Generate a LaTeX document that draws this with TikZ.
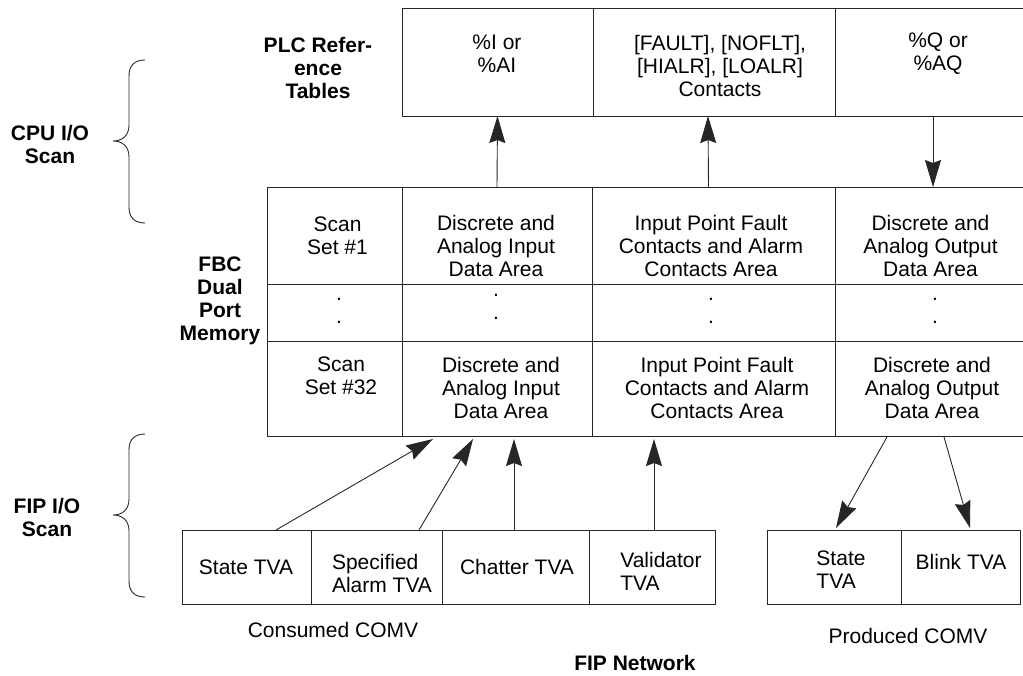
\documentclass[tikz,border=0pt]{standalone}
\usepackage{fontspec}
\setmainfont{Liberation Sans}
\usetikzlibrary{arrows.meta,calc}
\begin{document}
\begin{tikzpicture}[x=1pt,y=-1pt,
  font=\fontsize{21}{23}\selectfont,
  ln/.style={draw=black!85,line width=0.9pt},
  cell/.style={ln,inner sep=0pt,outer sep=0pt},
  txt/.style={align=center,inner sep=0pt},
  lbl/.style={align=center,inner sep=0pt,font=\fontsize{21}{23}\selectfont\bfseries},
  arr/.style={ln,-{Stealth[length=27pt,width=16pt,inset=3pt]}}]
\useasboundingbox (0,0) rectangle (1023,675);

% top table
\node[cell,minimum width=191pt,minimum height=108pt] (t1) at (497.5,62) {};
\node[cell,minimum width=242pt,minimum height=108pt] (t2) at (714,62) {};
\node[cell,minimum width=190pt,minimum height=108pt] (t3) at (930,62) {};
\node[txt] (tt1) at (497,54) {\%I or\\\%AI};
\node[txt] (tt2) at (720,65.5) {[FAULT], [NOFLT],\\{}[HIALR], [LOALR]\\Contacts};
\node[txt] (tt3) at (938,54) {\%Q or\\\%AQ};

% middle table
\node[cell,minimum width=135pt,minimum height=97pt] (m11) at (334.5,235.5) {};
\node[cell,minimum width=190pt,minimum height=97pt] (m12) at (497,235.5) {};
\node[cell,minimum width=243pt,minimum height=97pt] (m13) at (713.5,235.5) {};
\node[cell,minimum width=190pt,minimum height=97pt] (m14) at (930,235.5) {};
\node[cell,minimum width=135pt,minimum height=57pt] (m21) at (334.5,312.5) {};
\node[cell,minimum width=190pt,minimum height=57pt] (m22) at (497,312.5) {};
\node[cell,minimum width=243pt,minimum height=57pt] (m23) at (713.5,312.5) {};
\node[cell,minimum width=190pt,minimum height=57pt] (m24) at (930,312.5) {};
\node[cell,minimum width=135pt,minimum height=95pt] (m31) at (334.5,388.5) {};
\node[cell,minimum width=190pt,minimum height=95pt] (m32) at (497,388.5) {};
\node[cell,minimum width=243pt,minimum height=95pt] (m33) at (713.5,388.5) {};
\node[cell,minimum width=190pt,minimum height=95pt] (m34) at (930,388.5) {};

\node[txt] (x11) at (337.5,235.5) {Scan\\Set \#1};
\node[txt] (x12) at (496,246) {Discrete and\\Analog Input\\Data Area};
\node[txt] (x13) at (711,246) {Input Point Fault\\Contacts and Alarm\\Contacts Area};
\node[txt] (x14) at (930.5,246) {Discrete and\\Analog Output\\Data Area};
\node[txt] (x21) at (339,311) {.\\.};
\node[txt] (x22) at (496,307) {.\\.};
\node[txt] (x23) at (711,311) {.\\.};
\node[txt] (x24) at (935,311) {.\\.};
\node[txt] (x31) at (341,376) {Scan\\Set \#32};
\node[txt] (x32) at (501,388) {Discrete and\\Analog Input\\Data Area};
\node[txt] (x33) at (717,388) {Input Point Fault\\Contacts and Alarm\\Contacts Area};
\node[txt] (x34) at (932,388) {Discrete and\\Analog Output\\Data Area};

% bottom boxes
\node[cell,minimum width=129pt,minimum height=74pt] (b1) at (246.5,567) {};
\node[cell,minimum width=131pt,minimum height=74pt] (b2) at (376.5,567) {};
\node[cell,minimum width=147pt,minimum height=74pt] (b3) at (515.5,567) {};
\node[cell,minimum width=126pt,minimum height=74pt] (b4) at (652,567) {};
\node[cell,minimum width=134pt,minimum height=74pt] (p1) at (834,567) {};
\node[cell,minimum width=119pt,minimum height=74pt] (p2) at (960.5,567) {};
\node[txt] (y1) at (246,567) {State TVA};
\node[txt,align=left] (y2) at (382,573) {Specified\\Alarm TVA};
\node[txt] (y3) at (517,567) {Chatter TVA};
\node[txt,align=left] (y4) at (661,571.5) {Validator\\TVA};
\node[txt,align=left] (y5) at (841,569.5) {State\\TVA};
\node[txt] (y6) at (961,562) {Blink TVA};

% labels
\node[lbl] (plc) at (318,68) {PLC Refer-\\ence\\Tables};
\node[lbl] (cpu) at (50,144) {CPU I/O\\Scan};
\node[lbl] (fbc) at (220,301) {FBC\\Dual\\Port\\Memory};
\node[lbl] (fip) at (47,517) {FIP I/O\\Scan};
\node[txt] (cons) at (333,630) {Consumed COMV};
\node[txt] (prod) at (908,636) {Produced COMV};
\node[lbl] (net) at (635,663) {FIP Network};

% braces
\draw[ln] (145,60) .. controls (134,60) and (129,66) .. (129,76) -- (129,125)
  .. controls (129,136) and (122,141) .. (113,141)
  .. controls (122,141) and (129,146) .. (129,157) -- (129,207)
  .. controls (129,217) and (134,223) .. (145,223);
\draw[ln] (145,434) .. controls (134,434) and (129,440) .. (129,450) -- (129,499)
  .. controls (129,510) and (122,515) .. (113,515)
  .. controls (122,515) and (129,520) .. (129,531) -- (129,581)
  .. controls (129,591) and (134,597) .. (145,597);

% arrows
\draw[arr] (m12.north) -- (t1.south);
\draw[arr] ($(m13.north)+(-5,0)$) -- ($(t2.south)+(-6,0)$);
\draw[arr] ($(t3.south)+(3,0)$) -- ($(m14.north)+(3,0)$);
\draw[arr] ($(b1.north)+(29.5,0)$) -- ($(m32.south)+(-64,3)$);
\draw[arr] ($(b2.north)+(42.5,0)$) -- ($(m32.south)+(-24,3)$);
\draw[arr] ($(b3.north)+(-1.5,0)$) -- ($(m32.south)+(17,3)$);
\draw[arr] ($(b4.north)+(2,0)$) -- ($(m33.south)+(-59.5,3)$);
\draw[arr] ($(m34.south)+(-43,1)$) -- ($(p1.north)+(2,-2)$);
\draw[arr] ($(m34.south)+(14,1)$) -- ($(p2.north)+(9.5,-2)$);
\end{tikzpicture}
\end{document}
